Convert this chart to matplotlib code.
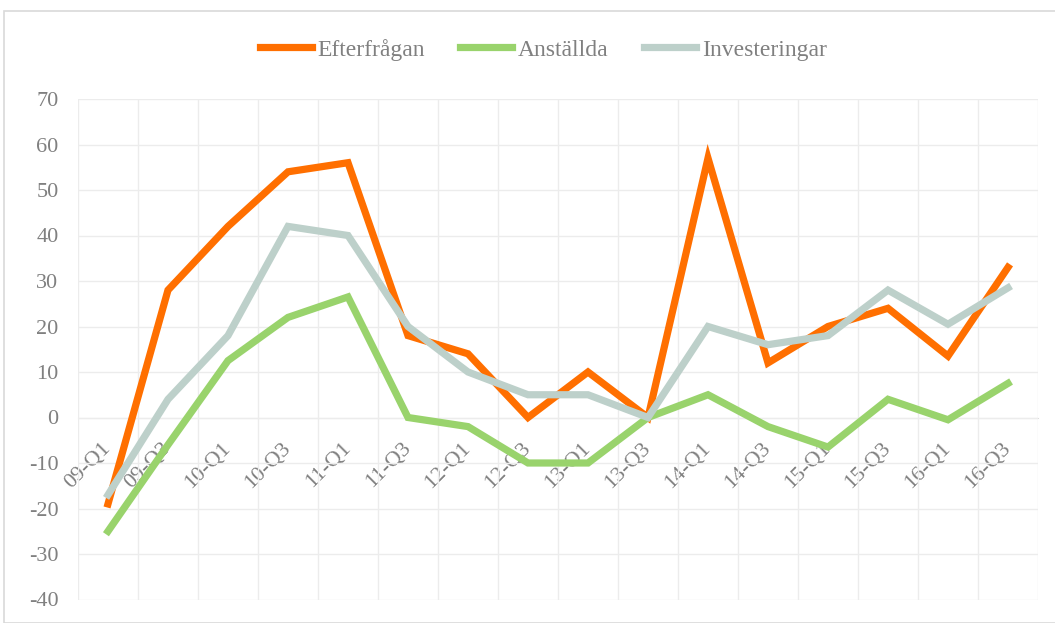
import matplotlib
matplotlib.use('Agg')
import matplotlib.pyplot as plt
from matplotlib.patches import Rectangle

quarters = ['09-Q1', '09-Q3', '10-Q1', '10-Q3', '11-Q1', '11-Q3', '12-Q1', '12-Q3',
            '13-Q1', '13-Q3', '14-Q1', '14-Q3', '15-Q1', '15-Q3', '16-Q1', '16-Q3']
efterfragan = [-19, 28, 42, 54, 56, 18, 14, 0, 10, 0, 57, 12, 20, 24, 13.5, 33]
anstallda = [-25, -6, 12.5, 22, 26.5, 0, -2, -10, -10, 0, 5, -2, -6.5, 4, -0.5, 7.5]
investeringar = [-17, 4, 18, 42, 40, 20, 10, 5, 5, 0, 20, 16, 18, 28, 20.5, 28.5]

plt.rcParams['font.family'] = ['Liberation Serif', 'DejaVu Serif']
plt.rcParams['axes.unicode_minus'] = False
grey_text = '#808080'
grid_col = '#ececec'

fig = plt.figure(figsize=(10.55, 6.23), dpi=100)
ax = fig.add_axes([78 / 1055, 23.5 / 623, 960 / 1055, 500.5 / 623])

# outer chart border
fig.patches.append(Rectangle((4 / 1055, 0), 1.1, (623 - 11) / 623, transform=fig.transFigure,
                             fill=False, edgecolor='#d9d9d9', linewidth=1.2))

# category axis crosses at 0 (set before ticks, it resets them)
for s in ['top', 'right', 'left']:
    ax.spines[s].set_visible(False)
ax.spines['bottom'].set_position(('data', 0))
ax.spines['bottom'].set_color('#dcdcdc')
ax.spines['bottom'].set_zorder(0)

x = [i + 0.5 for i in range(len(quarters))]
ax.plot(x, efterfragan, color='#ff6f00', lw=5.2, label='Efterfrågan', solid_joinstyle='miter')
ax.plot(x, anstallda, color='#99d36c', lw=5.2, label='Anställda', solid_joinstyle='miter')
ax.plot(x, investeringar, color='#bdd0ca', lw=5.2, label='Investeringar', solid_joinstyle='miter')

ax.set_xlim(0, len(quarters))
ax.set_ylim(-40, 70)
ax.set_yticks(range(-40, 71, 10))
ax.set_xticks(x)
ax.set_xticklabels(quarters, rotation=45, ha='right', va='center', rotation_mode='anchor')
ax.set_xticks(range(len(quarters) + 1), minor=True)

ax.grid(True, which='major', axis='y', color=grid_col, lw=1)
ax.grid(True, which='minor', axis='x', color=grid_col, lw=1)
ax.set_axisbelow(True)

ax.tick_params(axis='y', length=0, pad=14, labelsize=16, labelcolor=grey_text)
ax.tick_params(axis='x', which='major', length=0, pad=20, labelsize=16, labelcolor=grey_text)
ax.tick_params(axis='x', which='minor', length=0)

fig.legend(loc='upper center', bbox_to_anchor=(0.515, 0.972), ncol=3, frameon=False,
           fontsize=17, labelcolor=grey_text, handlelength=2.2, handletextpad=0.25,
           columnspacing=1.5)

plt.savefig('out.png', dpi=100)
